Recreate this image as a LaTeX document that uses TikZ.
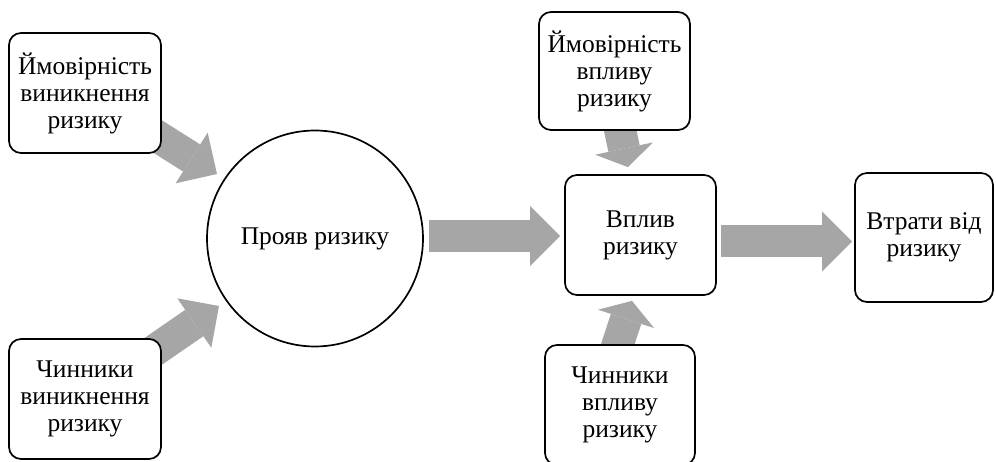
\documentclass[tikz,border=0pt]{standalone}
\usepackage{fontspec}
\setmainfont{Liberation Serif}
\usetikzlibrary{arrows.meta}
\definecolor{arrgray}{RGB}{166,166,166}
\pgfdeclarelayer{bg}
\pgfsetlayers{bg,main}
\begin{document}
\begin{tikzpicture}[x=1pt,y=1pt,
  box/.style={draw=black, line width=1.7pt, rounded corners=12pt, fill=white, align=center,
    font=\fontsize{25.5}{27}\selectfont, inner sep=0pt},
  roundnode/.style={draw=black, line width=1.7pt, circle, fill=white, align=center,
    font=\fontsize{25.5}{27}\selectfont, inner sep=0pt, minimum size=216pt},
  bigarrow/.style={draw=arrgray, line width=32pt, -{Triangle[width=60pt,length=30pt,line width=0pt]}},
  smallarrow/.style={draw=arrgray, line width=32pt, -{Triangle[width=59pt,length=19pt,line width=0pt]}}]
\useasboundingbox (0,0) rectangle (996,461);
\clip (0,0) rectangle (996,461);

\node[box, minimum width=152pt, minimum height=120pt] (b1) at (85,368) {Ймовірність\\виникнення\\ризику};
\node[box, minimum width=152pt, minimum height=120pt] (b2) at (85,62) {Чинники\\виникнення\\ризику};
\node[roundnode] (c) at (315,222.5) {Прояв ризику};
\node[box, minimum width=151pt, minimum height=118pt] (b3) at (614.5,390) {Ймовірність\\впливу\\ризику};
\node[box, minimum width=151pt, minimum height=120pt] (b4) at (640.5,226) {Вплив\\ризику};
\node[box, minimum width=150pt, minimum height=120pt] (b5) at (620,56) {Чинники\\впливу\\ризику};
\node[box, minimum width=138pt, minimum height=129pt] (b6) at (924,223.5) {Втрати від\\ризику};

\begin{pgfonlayer}{bg}
\draw[bigarrow] ([xshift=56pt,yshift=-33pt]b1.center) -- ([xshift=-98pt,yshift=64.5pt]c.center);
\draw[bigarrow] ([xshift=60pt,yshift=42pt]b2.center) -- ([xshift=-96pt,yshift=-67.5pt]c.center);
\draw[bigarrow] ([xshift=5pt,yshift=2.5pt]c.east) -- ([xshift=-4pt,yshift=-1pt]b4.west);
\draw[bigarrow] ([xshift=4pt,yshift=-6.5pt]b4.east) -- ([xshift=-2pt,yshift=-4pt]b6.west);
\draw[smallarrow] ([xshift=4.5pt,yshift=6pt]b3.south) -- ([xshift=-12.5pt,yshift=7pt]b4.north);
\draw[smallarrow] ([xshift=-4.5pt,yshift=-7pt]b5.north) -- ([xshift=-8.5pt,yshift=-5pt]b4.south);
\end{pgfonlayer}
\end{tikzpicture}
\end{document}
